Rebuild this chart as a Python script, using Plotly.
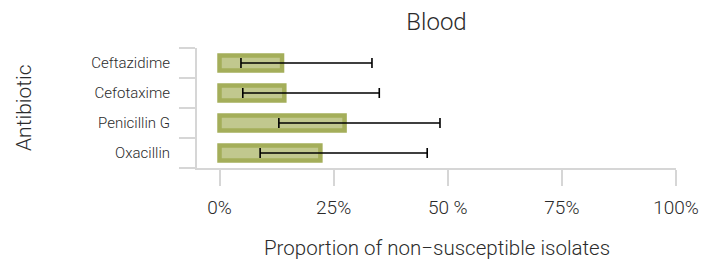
import plotly.graph_objects as go

antibiotics = ["Oxacillin", "Penicillin G", "Cefotaxime", "Ceftazidime"]
proportion = [22.1, 27.4, 14.2, 13.7]
ci_low = [8.9, 13.0, 5.1, 4.7]
ci_high = [45.5, 48.3, 35.0, 33.4]

tick_vals = [0, 25, 50, 75, 100]
tick_text = ["0%", "25%", "50 %", "75%", "100%"]

err_plus = [h - p for h, p in zip(ci_high, proportion)]
err_minus = [p - l for p, l in zip(proportion, ci_low)]

FONT = "Roboto"
TXT = "#2b2b2b"
GRID = "#d6d6d6"
W = 300

fig = go.Figure()
fig.add_trace(go.Bar(
    x=proportion, y=antibiotics, orientation="h",
    marker=dict(color="#c1c88e", line=dict(color="#a4ae5a", width=4.5)),
    error_x=dict(type="data", symmetric=False, array=err_plus, arrayminus=err_minus,
                 color="black", thickness=1.6, width=5),
    showlegend=False,
))

L, R, T, B = 197, 27, 48, 96
pw = 703 - L - R
ph = 264 - T - B

fig.update_layout(
    width=703, height=264,
    margin=dict(l=L, r=R, t=T, b=B, autoexpand=False),
    paper_bgcolor="white", plot_bgcolor="white",
    bargap=0.5,
    font=dict(family=FONT, color=TXT, weight=W),
    title=dict(text="Blood", x=(L + pw / 2) / 703, xanchor="center", y=1 - 22 / 264, yanchor="middle",
               font=dict(size=24, color=TXT, family=FONT, weight=W)),
    xaxis=dict(
        range=[-4.93, 100], tickvals=tick_vals, ticktext=tick_text,
        showgrid=False, zeroline=False, automargin=False,
        showline=True, linecolor=GRID, linewidth=2,
        ticks="outside", ticklen=16, tickwidth=1.5, tickcolor=GRID,
        tickfont=dict(size=19, color=TXT, weight=W), ticklabelstandoff=5,
    ),
    yaxis=dict(
        categoryorder="array", categoryarray=antibiotics,
        showgrid=False, zeroline=False, automargin=False,
        showline=True, linecolor=GRID, linewidth=2,
        ticks="outside", tickson="boundaries", ticklen=16, tickwidth=1.5, tickcolor=GRID,
        tickfont=dict(size=15, color=TXT, weight=W), ticklabelstandoff=22,
    ),
    annotations=[
        dict(text="Proportion of non\u2212susceptible isolates", xref="paper", yref="paper",
             x=0.5, y=(168 - 248) / ph, xanchor="center", yanchor="middle", showarrow=False,
             font=dict(size=20.5, color=TXT, family=FONT, weight=W)),
        dict(text="Antibiotic", xref="paper", yref="paper", textangle=-90,
             x=(24 - L) / pw, y=0.5, xanchor="center", yanchor="middle", showarrow=False,
             font=dict(size=21, color=TXT, family=FONT, weight=W)),
    ],
)

fig.write_html("out.html", config={"displayModeBar": False},
               post_script="document.body.style.margin='0';document.body.style.overflow='hidden';")
